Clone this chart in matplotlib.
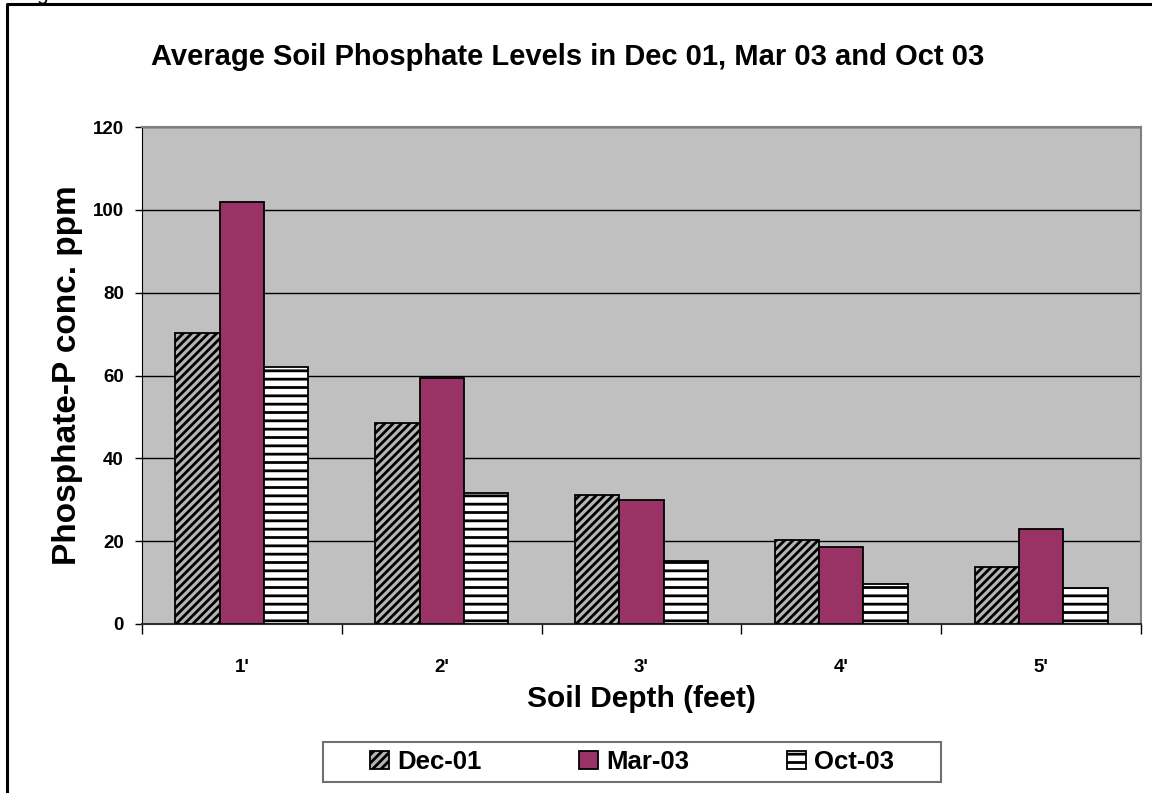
import numpy as np
import matplotlib
matplotlib.use("Agg")
import matplotlib.pyplot as plt
from matplotlib.patches import Rectangle
from matplotlib.lines import Line2D

plt.rcParams['font.family'] = ['Liberation Sans', 'DejaVu Sans']
plt.rcParams['font.weight'] = 'bold'
plt.rcParams['hatch.linewidth'] = 2.0

depths = ["1'", "2'", "3'", "4'", "5'"]
series = ["Dec-01", "Mar-03", "Oct-03"]
dec01 = [70.3, 48.6, 31.2, 20.2, 13.7]
mar03 = [101.9, 59.3, 29.9, 18.7, 23.0]
oct03 = [62.0, 31.6, 15.3, 9.7, 8.8]

W, H = 1152, 793
fig = plt.figure(figsize=(W / 100, H / 100), dpi=100)
ax = fig.add_axes([142 / W, 1 - 624 / H, 999 / W, 497 / H])
ax.set_facecolor('#C0C0C0')

x = np.arange(len(depths))
w = 0.222
styles = [
    dict(facecolor='#B4B4B4', hatch='////'),
    dict(facecolor='#993366', hatch=None),
    dict(facecolor='white', hatch='--'),
]
handles = []
for i, (vals, st) in enumerate(zip([dec01, mar03, oct03], styles)):
    b = ax.bar(x + (i - 1) * w, vals, w, edgecolor='black', linewidth=1.3,
               label=series[i], zorder=3, **st)
    handles.append(b)

ax.set_xlim(-0.5, 4.5)
ax.set_ylim(0, 120)
ax.set_yticks(np.arange(0, 121, 20))
ax.yaxis.grid(True, color='black', linewidth=1.0, zorder=1)
ax.set_axisbelow(True)
ax.set_xticks(x)
ax.set_xticklabels(depths)
ax.set_xticks(np.arange(-0.5, 4.6, 1), minor=True)
ax.tick_params(axis='x', which='major', length=0, pad=25, labelsize=13.5)
ax.tick_params(axis='x', which='minor', length=7, width=1, direction='out')
ax.tick_params(axis='y', length=5, width=1, direction='out', labelsize=13.5, pad=8)

for s in ['top', 'right']:
    ax.spines[s].set_color('#808080')
    ax.spines[s].set_linewidth(1.5)
ax.spines['left'].set_color('black')
ax.spines['bottom'].set_color('#303030')
ax.spines['bottom'].set_linewidth(1.5)

ax.set_ylabel('Phosphate-P conc. ppm', fontsize=24, fontweight='bold', labelpad=7)
ax.set_xlabel('Soil Depth (feet)', fontsize=21.5, fontweight='bold', labelpad=7)

fig.text(568 / W, 1 - 57 / H, 'Average Soil Phosphate Levels in Dec 01, Mar 03 and Oct 03',
         ha='center', va='center', fontsize=21, fontweight='bold')

# legend, with its own wide frame like the spreadsheet legend box
leg = fig.legend(handles=handles, labels=series, loc='center',
                 bbox_to_anchor=(632 / W, 1 - 762 / H), ncol=3, frameon=False,
                 fontsize=18.5, handlelength=0.75, handleheight=0.75,
                 handletextpad=0.3, columnspacing=3.8, borderpad=0.3)
for t in leg.get_texts():
    t.set_fontweight('bold')
fig.patches.append(Rectangle((323 / W, 1 - 782 / H), 618 / W, 40 / H,
                             transform=fig.transFigure, fill=False,
                             edgecolor='#707070', linewidth=1.5))

# outer border of the chart object (top and left edges are in view)
fig.lines.append(Line2D([7 / W, 7 / W, 1150 / W], [0, 1 - 4 / H, 1 - 4 / H],
                        transform=fig.transFigure, color='black', linewidth=2.2))
fig.text(36 / W, 1.0, 'g', fontsize=15, fontweight='normal', va='baseline')

fig.savefig('out.png', dpi=100)
